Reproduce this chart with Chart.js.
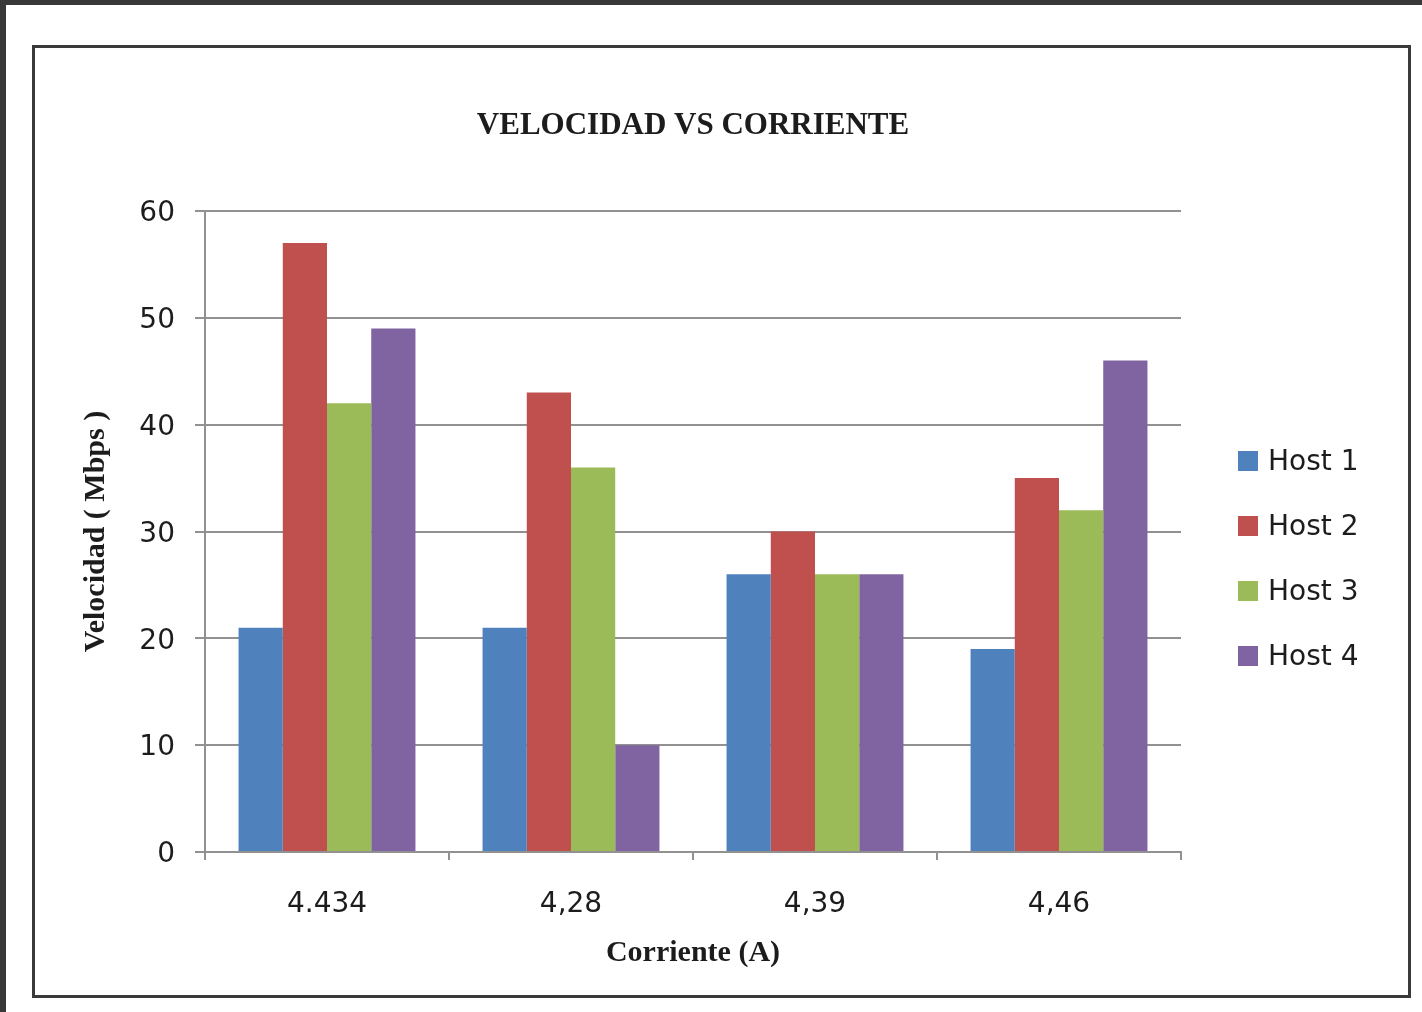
<!DOCTYPE html>
<html>
<head>
<meta charset="utf-8">
<script src="https://cdn.jsdelivr.net/npm/chart.js@4"></script>
<style>
  html, body { margin: 0; padding: 0; background: #ffffff; width: 1422px; height: 1012px; overflow: hidden; }
  #topbar { position: absolute; left: 0; top: 0; width: 1422px; height: 5px; background: #383838; }
  #leftbar { position: absolute; left: 0; top: 0; width: 6px; height: 1012px; background: #383838; }
  #frame { position: absolute; left: 32px; top: 45px; width: 1379px; height: 953px; border: 3px solid #3a3a3a; box-sizing: border-box; }
  #wrap { position: absolute; left: 0; top: 0; width: 1422px; height: 1012px; }
</style>
</head>
<body>
<div id="topbar"></div>
<div id="leftbar"></div>
<div id="frame"></div>
<div id="wrap"><canvas id="c"></canvas></div>
<script>
const categories = ['4.434', '4,28', '4,39', '4,46'];
const seriesNames = ['Host 1', 'Host 2', 'Host 3', 'Host 4'];
const host1 = [21, 21, 26, 19];
const host2 = [57, 43, 30, 35];
const host3 = [42, 36, 26, 32];
const host4 = [49, 10, 26, 46];
const yTicks = [0, 10, 20, 30, 40, 50, 60];
const colors = ['#4F81BD', '#C0504D', '#9BBB59', '#8064A2'];

const sansFont = "'DejaVu Sans', Verdana, sans-serif";
const serifFont = "'Liberation Serif', 'Times New Roman', serif";
const textColor = '#1c1c1c';
const gridColor = '#919191';

const legendPlugin = {
  id: 'customLegend',
  afterDraw(chart) {
    const ctx = chart.ctx;
    ctx.save();
    ctx.font = '28px ' + sansFont;
    ctx.textBaseline = 'middle';
    ctx.textAlign = 'left';
    const startY = 461, step = 65, boxX = 1238, box = 20;
    chart.data.datasets.forEach((ds, i) => {
      const cy = startY + i * step;
      ctx.fillStyle = ds.backgroundColor;
      ctx.fillRect(boxX, cy - box / 2, box, box);
      ctx.fillStyle = textColor;
      ctx.fillText(ds.label, boxX + box + 10, cy + 2);
    });
    ctx.restore();
  }
};

const data = {
  labels: categories,
  datasets: [host1, host2, host3, host4].map((vals, i) => ({
    label: seriesNames[i],
    data: vals,
    backgroundColor: colors[i],
    borderWidth: 0,
    categoryPercentage: 0.725,
    barPercentage: 1.0
  }))
};

new Chart(document.getElementById('c'), {
  type: 'bar',
  data,
  plugins: [legendPlugin],
  options: {
    responsive: true,
    maintainAspectRatio: false,
    animation: false,
    layout: { padding: { left: 0, top: 0, right: 241, bottom: 27 } },
    plugins: {
      legend: { display: false },
      tooltip: { enabled: false },
      title: {
        display: true,
        fullSize: false,
        text: 'VELOCIDAD VS CORRIENTE',
        color: textColor,
        font: { family: serifFont, size: 31, weight: 'bold', lineHeight: 1.2 },
        padding: { top: 107, bottom: 66.8 }
      }
    },
    scales: {
      x: {
        grid: { drawOnChartArea: false, drawTicks: true, tickLength: 8, color: gridColor, lineWidth: 2 },
        border: { display: true, color: gridColor, width: 2 },
        ticks: { color: textColor, font: { family: sansFont, size: 28 }, padding: 28 },
        title: {
          display: true, text: 'Corriente (A)', color: textColor,
          font: { family: serifFont, size: 30, weight: 'bold', lineHeight: 1.2 },
          padding: { top: 0, bottom: 14 }
        },
        afterFit(scale) { scale.height = 133; }
      },
      y: {
        min: 0, max: 60,
        afterBuildTicks(scale) { scale.ticks = yTicks.map(v => ({ value: v })); },
        grid: { color: gridColor, lineWidth: 2, tickLength: 10, drawTicks: true },
        border: { display: true, color: gridColor, width: 2 },
        ticks: { color: textColor, font: { family: sansFont, size: 28 }, padding: 20, labelOffset: 3 },
        title: {
          display: true, text: 'Velocidad ( Mbps )', color: textColor,
          font: { family: serifFont, size: 30, weight: 'bold', lineHeight: 1.2 },
          padding: { top: 78, bottom: 0 }
        },
        afterFit(scale) { scale.width = 205; }
      }
    }
  }
});
</script>
</body>
</html>
